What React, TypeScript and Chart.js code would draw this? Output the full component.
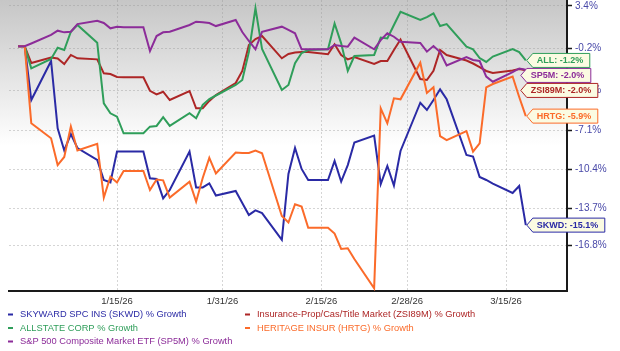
import React, { useEffect, useRef } from 'react';
import { Chart, registerables } from 'chart.js';

Chart.register(...registerables);

// ---- data ----
const dates = [
  '2025-12-31', '2026-01-01', '2026-01-02', '2026-01-05', '2026-01-06', '2026-01-07', '2026-01-08', '2026-01-09',
  '2026-01-12', '2026-01-13', '2026-01-14', '2026-01-15', '2026-01-16', '2026-01-19', '2026-01-20', '2026-01-21',
  '2026-01-22', '2026-01-23', '2026-01-26', '2026-01-27', '2026-01-28', '2026-01-29', '2026-01-30', '2026-02-02',
  '2026-02-03', '2026-02-04', '2026-02-05', '2026-02-06', '2026-02-09', '2026-02-10', '2026-02-11', '2026-02-12',
  '2026-02-13', '2026-02-16', '2026-02-17', '2026-02-18', '2026-02-19', '2026-02-20', '2026-02-23', '2026-02-24',
  '2026-02-25', '2026-02-26', '2026-02-27', '2026-03-02', '2026-03-03', '2026-03-04', '2026-03-05', '2026-03-06',
  '2026-03-09', '2026-03-10', '2026-03-11', '2026-03-12', '2026-03-13', '2026-03-16', '2026-03-17', '2026-03-18',
];

const skwd = [0, 0, -4.54, -1.25, -6.93, -8.8, -7.41, -8.59, -9.6, -11.29, -11.5, -8.89, -8.89, -8.89, -11.15, -11.21,
  -12.84, -12.14, -8.89, -11.92, -11.92, -11.57, -12.6, -12.22, -13.23, -14.24, -13.86, -14.08, -16.35, -10.78, -8.59,
  -10.36, -11.29, -11.29, -9.69, -11.43, -10.03, -8.13, -7.54, -11.63, -10.11, -11.77, -8.84, -4.77, -5.38, -4.54,
  -3.64, -4.48, -9.18, -9.31, -11.04, -11.29, -11.59, -12.39, -11.8, -15.1];

const zsi89m = [0, 0, -1.42, -0.95, -1.04, -1.5, -0.74, -1.02, -1.11, -2.29, -2.35, -2.6, -2.62, -2.62, -3.76, -4.06,
  -3.84, -4.54, -3.78, -5.24, -5.24, -4.62, -4.12, -3.11, -2.09, 0.1, 0.61, 0.86, -1.02, -0.66, -0.53, -0.49, -0.49,
  -0.68, 0.16, -0.74, -1.11, -0.91, -1.5, -1.25, -1.25, -0.32, 0.57, -2.77, -2.85, -2.07, -0.32, -0.74, -1.21, -1.46,
  -1.76, -2.09, -2.26, -2.05, -1.92, -2.03];

const allstate = [0, 0, -1.87, -1.08, -0.13, -0.32, 1.22, 1.79, 0.3, -4.82, -5.66, -5.95, -7.35, -7.35, -6.79, -6.73,
  -5.98, -6.73, -5.66, -6.08, -4.96, -4.46, -4.16, -3.27, -2.85, -0.49, 3.2, -0.24, -3.7, -3.27, -1.44, -0.57, -0.32,
  -0.26, 1.92, 0.24, -2.09, -0.83, -0.74, 0.73, 0.65, 1.79, 2.91, 2.21, 2.46, 2.78, 1.7, 1.87, -0.04, -0.26, -1.0,
  -1.33, -0.87, -0.24, -0.49, -1.2];

const hrtg = [0, 0, -6.51, -7.77, -10.03, -9.35, -6.78, -8.8, -8.23, -12.77, -11.01, -11.5, -10.53, -10.53, -12.14,
  -11.25, -11.32, -12.77, -11.43, -13.12, -11.12, -9.43, -10.73, -8.97, -9.01, -9.01, -8.8, -9.04, -14.33, -14.88,
  -13.34, -13.54, -15.32, -15.32, -15.81, -17.11, -17.05, -17.96, -20.43, -5.24, -6.51, -4.4, -4.48, -1.39, -3.95,
  -3.47, -7.58, -7.92, -7.16, -8.9, -8.19, -3.47, -3.19, -2.56, -4.29, -5.9];

const sp5m = [0, 0, 0.23, 0.95, 1.31, 1.17, 1.22, 1.87, 2.15, 1.96, 1.51, 1.65, 1.6, 1.6, -0.41, 0.86, 1.17, 1.22,
  1.79, 2.07, 2.03, 1.96, 1.7, 2.21, 1.2, 0.44, -0.26, 1.22, 1.65, 1.37, 1.09, -0.26, -0.26, -0.26, 0.1, 0.02, -0.04,
  0.72, -0.26, 0.52, 1.09, 0.8, 0.38, 0.27, -0.46, 0.02, -0.49, -1.63, -0.91, -1.16, -1.25, -2.57, -3.0, -2.18,
  -1.88, -1.98];

const xTickDates = ['2026-01-15', '2026-01-31', '2026-02-15', '2026-02-28', '2026-03-15'];
const xTickLabels = ['1/15/26', '1/31/26', '2/15/26', '2/28/26', '3/15/26'];
const yTickValues = [3.4, -0.2, -3.7, -7.1, -10.4, -13.7, -16.8];
const yTickLabels = ['3.4%', '-0.2%', '-3.7%', '-7.1%', '-10.4%', '-13.7%', '-16.8%'];

const tickers = ['SKWD', 'ZSI89M', 'ALL', 'HRTG', 'SP5M'];
const legendNames = [
  'SKYWARD SPC INS (SKWD) % Growth',
  'Insurance-Prop/Cas/Title Market (ZSI89M) % Growth',
  'ALLSTATE CORP % Growth',
  'HERITAGE INSUR (HRTG) % Growth',
  'S&P 500 Composite Market ETF (SP5M) % Growth',
];
const seriesValues = [skwd, zsi89m, allstate, hrtg, sp5m];
const colors = ['#2a2aa5', '#ad2626', '#2f9e5a', '#fb6b2a', '#8c2c99'];

// ---- helpers ----
const FONT = '"Liberation Sans", Arial, sans-serif';
const DAY = 86400000;
const base = Date.parse('2026-01-01T00:00:00Z');
const dayOf = (s: string) => (Date.parse(s + 'T00:00:00Z') - base) / DAY;
const days = dates.map(dayOf);
const xTickDays = xTickDates.map(dayOf);

const bgPlugin = {
  id: 'bgGradient',
  beforeDraw(chart: any) {
    const { ctx, chartArea } = chart;
    const g = ctx.createLinearGradient(0, chartArea.top, 0, chartArea.bottom);
    g.addColorStop(0, '#c6c6c6');
    g.addColorStop(0.5, '#ffffff');
    g.addColorStop(1, '#ffffff');
    ctx.save();
    ctx.fillStyle = g;
    ctx.fillRect(0, chartArea.top, chartArea.right, chartArea.bottom - chartArea.top);
    ctx.restore();
  },
};

const calloutPlugin = {
  id: 'callouts',
  afterDatasetsDraw(chart: any) {
    const { ctx } = chart;
    const xs = chart.scales.x;
    const ys = chart.scales.y;
    const lastDay = days[days.length - 1];
    const items = seriesValues
      .map((vals, i) => {
        const last = vals[vals.length - 1];
        return { i, last, x: xs.getPixelForValue(lastDay), y: ys.getPixelForValue(last) };
      })
      .sort((a, b) => a.y - b.y);
    ctx.save();
    ctx.font = `bold 9px ${FONT}`;
    ctx.textBaseline = 'middle';
    let prev = -Infinity;
    for (const it of items) {
      const cy = Math.max(it.y, prev + 15);
      const shifted = cy - it.y > 3;
      prev = cy;
      const text = `${tickers[it.i]}: ${it.last.toFixed(1)}%`;
      const tw = ctx.measureText(text).width;
      const tipX = it.x + (shifted ? -5 : 1);
      const left = tipX + 6;
      const right = tipX + 10 + tw + 6.5;
      const top = cy - 7;
      const bottom = cy + 7;
      ctx.beginPath();
      ctx.moveTo(tipX, cy);
      ctx.lineTo(left, top);
      ctx.lineTo(right, top);
      ctx.lineTo(right, bottom);
      ctx.lineTo(left, bottom);
      ctx.closePath();
      ctx.fillStyle = '#fbfbe2';
      ctx.fill();
      ctx.lineWidth = 1;
      ctx.strokeStyle = colors[it.i];
      ctx.stroke();
      ctx.fillStyle = colors[it.i];
      ctx.fillText(text, tipX + 10, cy + 0.5);
    }
    ctx.restore();
  },
};

const legendPlugin = {
  id: 'customLegend',
  afterDraw(chart: any) {
    const { ctx } = chart;
    const colX = [8, 245];
    const rowY = [314.5, 328, 341.5];
    ctx.save();
    ctx.font = `9.3px ${FONT}`;
    ctx.textBaseline = 'middle';
    legendNames.forEach((name, i) => {
      const x = colX[i % 2];
      const y = rowY[Math.floor(i / 2)];
      ctx.fillStyle = colors[i];
      ctx.fillRect(x, y - 1, 5, 2);
      ctx.fillText(name, x + 12, y);
    });
    ctx.restore();
  },
};

export default function App() {
  const ref = useRef<HTMLCanvasElement>(null);
  useEffect(() => {
    if (!ref.current) return;
    const datasets = seriesValues.map((vals, i) => ({
      label: legendNames[i],
      data: vals.map((v, k) => ({ x: days[k], y: v })),
      borderColor: colors[i],
      backgroundColor: colors[i],
      borderWidth: 2,
      pointRadius: 0,
      tension: 0,
      fill: false,
      order: -i,
    }));
    const gridColor = 'rgba(150,150,150,0.4)';
    const chart = new Chart(ref.current, {
      type: 'line',
      data: { datasets },
      plugins: [bgPlugin, calloutPlugin, legendPlugin],
      options: {
        responsive: false,
        animation: false,
        devicePixelRatio: 1,
        layout: { padding: { left: 9, right: 0, top: 0, bottom: 0 } },
        plugins: { legend: { display: false }, tooltip: { enabled: false } },
        scales: {
          x: {
            type: 'linear',
            min: -2.38,
            max: 82.25,
            afterBuildTicks: (axis: any) => {
              axis.ticks = xTickDays.map((v) => ({ value: v }));
            },
            afterFit: (axis: any) => {
              axis.height = 60;
              axis.paddingLeft = 0;
              axis.paddingRight = 0;
              axis.paddingTop = 0;
              axis.paddingBottom = 0;
            },
            grid: { color: gridColor, drawTicks: false, lineWidth: 1 },
            border: { display: true, color: '#1a1a1a', width: 2, dash: [2, 2] },
            ticks: {
              autoSkip: false,
              maxRotation: 0,
              padding: 5,
              color: '#333333',
              font: { family: FONT, size: 9.5 },
              callback: (_v: any, idx: number) => xTickLabels[idx],
            },
          },
          y: {
            type: 'linear',
            position: 'right',
            min: -20.66,
            max: 3.9,
            afterBuildTicks: (axis: any) => {
              axis.ticks = yTickValues.map((v) => ({ value: v }));
            },
            afterFit: (axis: any) => {
              axis.width = 53;
              axis.paddingLeft = 0;
              axis.paddingRight = 0;
              axis.paddingTop = 0;
              axis.paddingBottom = 0;
            },
            grid: { color: gridColor, drawTicks: true, tickLength: 5, tickColor: '#1a1a1a', tickWidth: 1.5 },
            border: { display: true, color: '#1a1a1a', width: 2, dash: [2, 2] },
            ticks: {
              padding: 3,
              color: '#4848a8',
              font: { family: FONT, size: 10 },
              callback: (_v: any, idx: number) => yTickLabels[idx],
            },
          },
        },
      } as any,
    });
    return () => chart.destroy();
  }, []);
  return (
    <div style={{ position: 'absolute', left: 0, top: 0, width: 620, height: 351, background: '#ffffff' }}>
      <canvas ref={ref} width={620} height={351} style={{ display: 'block', width: 620, height: 351 }} />
    </div>
  );
}
